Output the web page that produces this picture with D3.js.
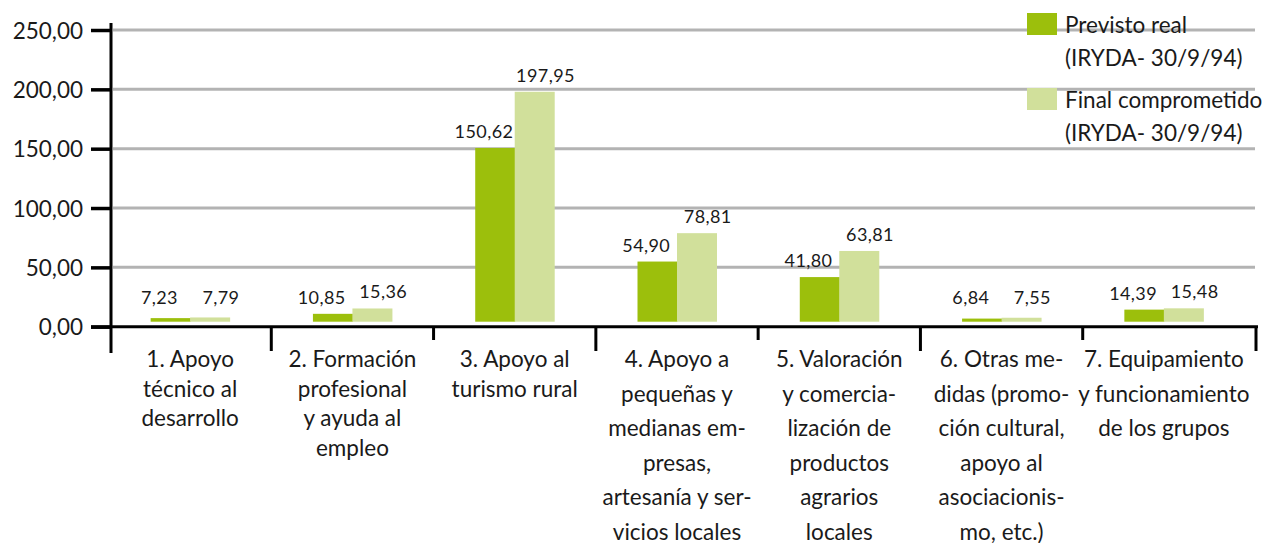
<!DOCTYPE html>
<html><head><meta charset="utf-8">
<script src="https://cdn.jsdelivr.net/npm/d3@7"></script>
<style>
html,body{margin:0;padding:0;background:#fff;}
svg{display:block;font-family:Lato, "Open Sans", sans-serif;}
</style></head>
<body>
<svg id="chart" width="1288" height="543"></svg>
<script>
// ---- data ----
const categories = ["c1","c2","c3","c4","c5","c6","c7"];
const categoryLabels = [
  ["1. Apoyo","técnico al","desarrollo"],
  ["2. Formación","profesional","y ayuda al","empleo"],
  ["3. Apoyo al","turismo rural"],
  ["4. Apoyo a","pequeñas y","medianas em-","presas,","artesanía y ser-","vicios locales"],
  ["5. Valoración","y comercia-","lización de","productos","agrarios","locales"],
  ["6. Otras me-","didas (promo-","ción cultural,","apoyo al","asociacionis-","mo, etc.)"],
  ["7. Equipamiento","y funcionamiento","de los grupos"]
];
const previstoReal = [7.23, 10.85, 150.62, 54.90, 41.80, 6.84, 14.39];
const finalComprometido = [7.79, 15.36, 197.95, 78.81, 63.81, 7.55, 15.48];
const seriesNames = ["Previsto real", "Final comprometido"];
const seriesSub = ["(IRYDA- 30/9/94)", "(IRYDA- 30/9/94)"];
const yTicks = [0, 50, 100, 150, 200, 250];

// ---- style ----
const colors = ["#9cbf0c", "#d1e09b"];
const labelLineHeight = [29.5, 29.5, 30, 34.5, 34.5, 34.5, 34.5];

const svg = d3.select("#chart");
const fmt = v => d3.format(".2f")(v).replace(".", ",");

const y = d3.scaleLinear().domain([0, 250]).range([326.7, 30]);
const x = d3.scaleBand().domain(categories).range([109, 1245]).padding(0);
const xs = d3.scaleBand().domain([0, 1]).range([0, 79]);
const pairOff = (x.bandwidth() - 79) / 2;

// gridlines
svg.append("g").selectAll("line").data(yTicks.filter(d => d > 0)).join("line")
  .attr("x1", 113).attr("x2", 1255)
  .attr("y1", d => y(d)).attr("y2", d => y(d))
  .attr("stroke", "#b3b3b3").attr("stroke-width", 3);

// y axis
const yAxis = d3.axisLeft(y).tickValues(yTicks).tickFormat(fmt).tickSize(20).tickPadding(8);
const gy = svg.append("g").attr("transform", "translate(111,0)").call(yAxis);
gy.select(".domain").remove();
gy.selectAll(".tick line").attr("stroke", "#000").attr("stroke-width", 3.5);
gy.selectAll(".tick text").attr("font-size", 22.5).attr("fill", "#1a1a1a")
  .attr("font-family", "Lato, sans-serif").attr("dy", "0.36em");
svg.append("line").attr("x1", 111).attr("x2", 111).attr("y1", 23).attr("y2", 353)
  .attr("stroke", "#000").attr("stroke-width", 3);

// zero line
svg.append("line").attr("x1", 91).attr("x2", 1258).attr("y1", y(0)).attr("y2", y(0))
  .attr("stroke", "#000").attr("stroke-width", 3);

// category separators
const sepX = categories.slice(1).map(c => x(c)).concat([1256]);
svg.append("g").selectAll("line").data(sepX).join("line")
  .attr("x1", d => d).attr("x2", d => d)
  .attr("y1", y(0)).attr("y2", (d, i) => i % 2 === 0 ? 351 : 340)
  .attr("stroke", "#000").attr("stroke-width", 3);

// bars
const data = categories.map((c, i) => ({c, vals: [previstoReal[i], finalComprometido[i]]}));
const base = y(0) - 5;
const groups = svg.append("g").selectAll("g").data(data).join("g")
  .attr("transform", d => `translate(${x(d.c) + pairOff},0)`);
groups.selectAll("rect").data(d => d.vals.map((v, k) => ({v, k}))).join("rect")
  .attr("x", d => xs(d.k)).attr("width", xs.bandwidth() + 0.5)
  .attr("y", d => Math.min(y(d.v), base - 3))
  .attr("height", d => Math.max(base - y(d.v), 3))
  .attr("fill", d => colors[d.k]);
groups.selectAll("text").data(d => d.vals.map((v, k) => ({v, k}))).join("text")
  .attr("x", d => xs(d.k) + xs.bandwidth() / 2 + (d.k === 0 ? -11 : 11))
  .attr("y", d => Math.min(y(d.v), base - 8) - 10)
  .attr("text-anchor", "middle").attr("font-size", 18).attr("fill", "#1a1a1a")
  .attr("letter-spacing", 0.4)
  .text(d => fmt(d.v));

// category labels
svg.append("g").selectAll("text").data(categoryLabels).join("text")
  .attr("text-anchor", "middle").attr("font-size", 22.5).attr("fill", "#1a1a1a")
  .each(function(lines, i) {
    const t = d3.select(this);
    const cx = x(categories[i]) + x.bandwidth() / 2;
    lines.forEach((ln, j) => {
      t.append("tspan").attr("x", cx).attr("y", 367 + j * labelLineHeight[i]).text(ln);
    });
  });

// legend
const leg = svg.append("g");
const legY = [13, 88];
seriesNames.forEach((name, i) => {
  leg.append("rect").attr("x", 1027).attr("y", legY[i]).attr("width", 30).attr("height", 22)
    .attr("fill", colors[i]);
  leg.append("text").attr("x", 1065).attr("y", legY[i] + 20).attr("font-size", 22.5)
    .attr("fill", "#1a1a1a").text(name);
  leg.append("text").attr("x", 1065).attr("y", legY[i] + 53).attr("font-size", 22.5)
    .attr("fill", "#1a1a1a").text(seriesSub[i]);
});
</script>
</body></html>
